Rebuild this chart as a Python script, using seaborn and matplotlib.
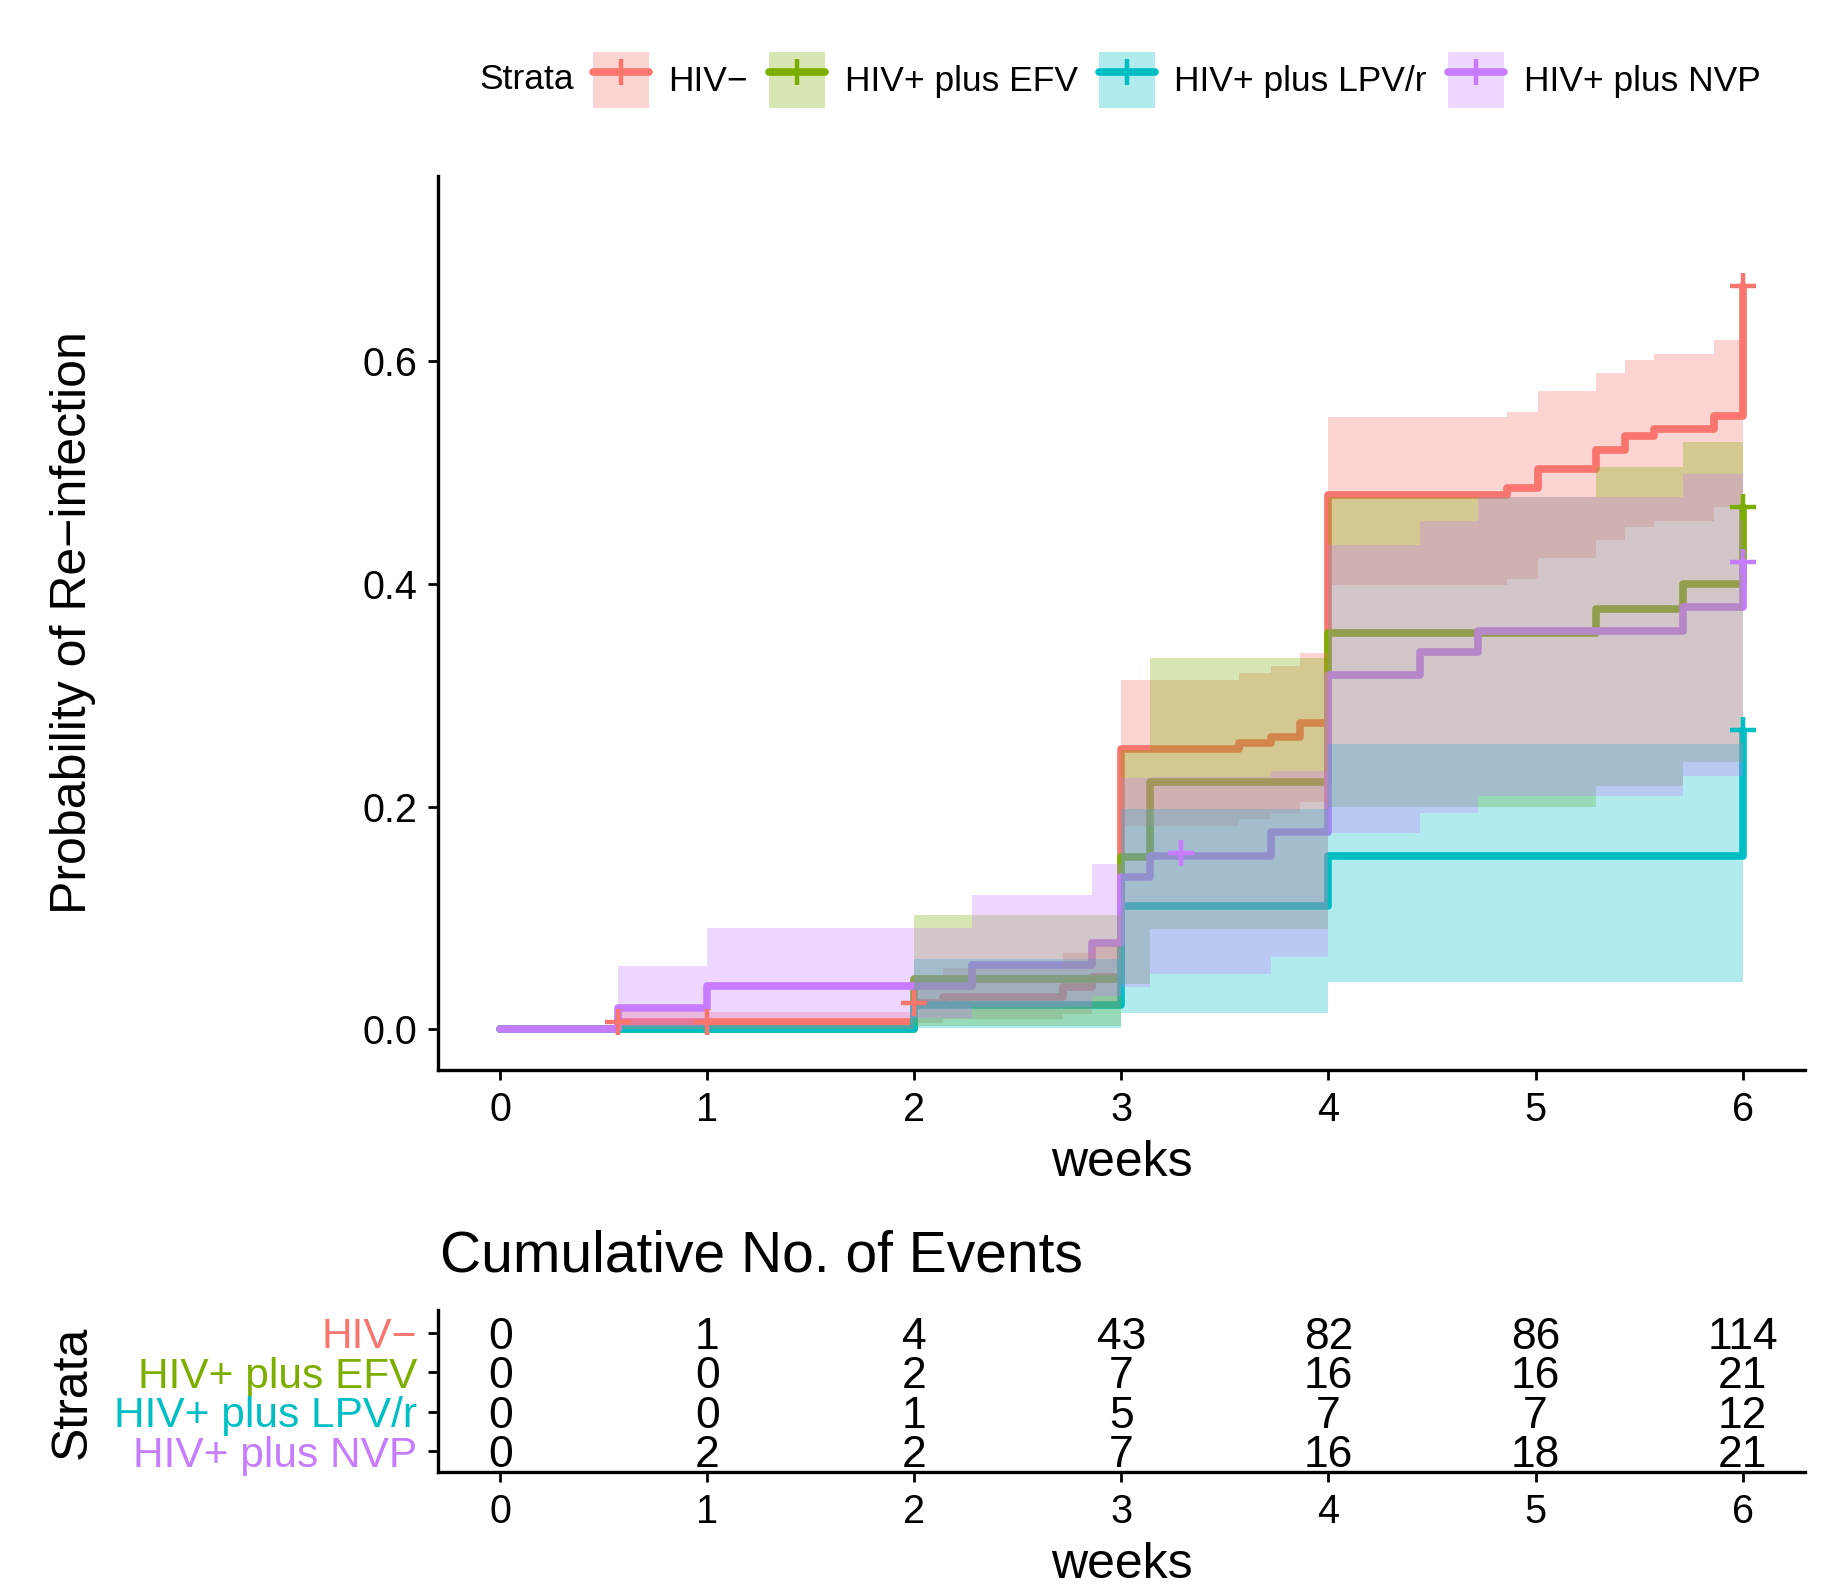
import numpy as np
import pandas as pd
import seaborn as sns
import matplotlib.pyplot as plt
from matplotlib.patches import Patch
from matplotlib.lines import Line2D

sns.set_theme(style="ticks")
plt.rcParams["font.family"] = ["Liberation Sans", "DejaVu Sans"]
plt.rcParams.update({"text.color": "black", "axes.labelcolor": "black",
                     "xtick.color": "black", "ytick.color": "black"})

strata = ["HIV−", "HIV+ plus EFV", "HIV+ plus LPV/r", "HIV+ plus NVP"]
colors = ["#F8766D", "#7CAE00", "#00BFC4", "#C77CFF"]

# cumulative incidence curves (time, estimate, lower, upper)
t_neg = [0, 0.57, 2.0, 2.14, 2.72, 2.86, 3.0, 3.57, 3.72, 3.86, 4.0, 4.86, 5.01, 5.29, 5.43, 5.57, 5.86, 6.0]
est_neg = [0, 0.0065, 0.024, 0.029, 0.038, 0.047, 0.252, 0.257, 0.263, 0.275, 0.480, 0.486, 0.503, 0.520, 0.533, 0.539, 0.551, 0.668]
lo_neg = [0, 0.0, 0.006, 0.009, 0.014, 0.019, 0.183, 0.189, 0.194, 0.204, 0.399, 0.405, 0.423, 0.440, 0.451, 0.457, 0.469, 0.60]
up_neg = [0, 0.016, 0.048, 0.055, 0.069, 0.075, 0.3135, 0.320, 0.326, 0.338, 0.550, 0.555, 0.573, 0.590, 0.601, 0.607, 0.619, 0.73]

t_efv = [0, 2.0, 3.0, 3.14, 4.0, 5.29, 5.71, 6.0]
est_efv = [0, 0.045, 0.155, 0.222, 0.356, 0.378, 0.400, 0.469]
lo_efv = [0, 0.003, 0.041, 0.090, 0.200, 0.219, 0.240, 0.30]
up_efv = [0, 0.1025, 0.251, 0.334, 0.478, 0.505, 0.528, 0.60]

t_lpv = [0, 2.0, 3.0, 4.0, 6.0]
est_lpv = [0, 0.022, 0.111, 0.156, 0.269]
lo_lpv = [0, 0.001, 0.0147, 0.043, 0.10]
up_lpv = [0, 0.0635, 0.198, 0.256, 0.42]

t_nvp = [0, 0.57, 1.0, 2.28, 2.86, 3.0, 3.14, 3.72, 4.0, 4.44, 4.72, 5.71, 6.0]
est_nvp = [0, 0.0195, 0.039, 0.058, 0.078, 0.137, 0.156, 0.177, 0.318, 0.339, 0.358, 0.379, 0.420]
lo_nvp = [0, 0.003, 0.010, 0.020, 0.030, 0.038, 0.050, 0.065, 0.176, 0.194, 0.210, 0.228, 0.26]
up_nvp = [0, 0.057, 0.091, 0.121, 0.149, 0.226, 0.227, 0.232, 0.435, 0.457, 0.478, 0.499, 0.55]

# censor marks
cens_t = {"HIV−": [0.57, 1.0, 2.0, 6.0], "HIV+ plus EFV": [6.0], "HIV+ plus LPV/r": [6.0], "HIV+ plus NVP": [3.29, 6.0]}
cens_v = {"HIV−": [0.0065, 0.0065, 0.024, 0.668], "HIV+ plus EFV": [0.469], "HIV+ plus LPV/r": [0.269], "HIV+ plus NVP": [0.158, 0.420]}

# cumulative number of events table
table_times = [0, 1, 2, 3, 4, 5, 6]
ev_neg = [0, 1, 4, 43, 82, 86, 114]
ev_efv = [0, 0, 2, 7, 16, 16, 21]
ev_lpv = [0, 0, 1, 5, 7, 7, 12]
ev_nvp = [0, 2, 2, 7, 16, 18, 21]

curves = {
    "HIV−": (t_neg, est_neg, lo_neg, up_neg),
    "HIV+ plus EFV": (t_efv, est_efv, lo_efv, up_efv),
    "HIV+ plus LPV/r": (t_lpv, est_lpv, lo_lpv, up_lpv),
    "HIV+ plus NVP": (t_nvp, est_nvp, lo_nvp, up_nvp),
}
events = {"HIV−": ev_neg, "HIV+ plus EFV": ev_efv, "HIV+ plus LPV/r": ev_lpv, "HIV+ plus NVP": ev_nvp}
pal = dict(zip(strata, colors))

df = pd.concat([pd.DataFrame({"time": v[0], "est": v[1], "lower": v[2], "upper": v[3], "strata": k})
                for k, v in curves.items()], ignore_index=True)

fig = plt.figure(figsize=(18.42, 15.89), dpi=100)
ax = fig.add_axes([0.2378, 0.3266, 0.742, 0.5626])
tab = fig.add_axes([0.2378, 0.0736, 0.742, 0.102])

lw = 5.5
# lines first, ribbons over them, censor marks on top (as in ggsurvplot)
sns.lineplot(data=df, x="time", y="est", hue="strata", hue_order=strata, palette=pal,
             estimator=None, sort=False, drawstyle="steps-post", linewidth=lw,
             legend=False, ax=ax, zorder=1)
for s in strata:
    d = df[df.strata == s]
    ax.fill_between(d.time, d.lower, d.upper, step="post", color=pal[s], alpha=0.3,
                    linewidth=0, zorder=2)
for s in strata:
    ax.plot(cens_t[s], cens_v[s], ls="none", marker="+", ms=19, mew=3.2, color=pal[s], zorder=3)

ax.set_xlim(-0.3, 6.3)
ax.set_ylim(-0.0365, 0.7665)
ax.set_xticks(table_times)
ax.set_yticks([0, 0.2, 0.4, 0.6])
ax.set_yticklabels(["0.0", "0.2", "0.4", "0.6"])
ax.set_xlabel("weeks", fontsize=36, labelpad=8)
ax.set_ylabel("")
sns.despine(ax=ax)

# risk table
for i, s in enumerate(strata):
    for t, n in zip(table_times, events[s]):
        tab.text(t, 4 - i, str(n), ha="center", va="center_baseline", fontsize=32)
tab.set_xlim(-0.3, 6.3)
tab.set_ylim(0.466, 4.585)
tab.set_xticks(table_times)
tab.set_yticks([4, 3, 2, 1])
tab.set_yticklabels(strata)
tab.set_xlabel("weeks", fontsize=36, labelpad=8)
sns.despine(ax=tab)

for a in (ax, tab):
    a.tick_params(axis="x", labelsize=28.5, length=7, width=2, pad=8, colors="black")
    a.tick_params(axis="y", length=7, width=2, pad=8, colors="black")
    for sp in ("left", "bottom"):
        a.spines[sp].set_linewidth(2.4)
        a.spines[sp].set_color("black")
ax.tick_params(axis="y", labelsize=28.5)
tab.tick_params(axis="y", labelsize=30.5)
for lab, c in zip(tab.get_yticklabels(), colors):
    lab.set_color(c)

fig.text(73 / 1842, 0.608, "Probability of Re−infection", rotation=90, ha="center", va="center", fontsize=36)
fig.text(73 / 1842, 0.124, "Strata", rotation=90, ha="center", va="center", fontsize=36)
fig.text(440 / 1842, 0.209, "Cumulative No. of Events", ha="left", va="center", fontsize=41)

# legend
handles = [(Patch(facecolor=c, alpha=0.3, edgecolor="none"),
            Line2D([], [], color=c, lw=lw, marker="+", ms=19, mew=3.2)) for c in colors]
fig.text(479 / 1842, 0.9497, "Strata", ha="left", va="center", fontsize=25.5)
fig.legend(handles, strata, loc="center left", bbox_to_anchor=(593 / 1842, 0.9497), ncol=4,
           frameon=False, fontsize=25.5, handlelength=1.58, handleheight=2.05,
           handletextpad=0.55, columnspacing=0.6, borderpad=0, borderaxespad=0)

fig.savefig("out.png", dpi=100)
